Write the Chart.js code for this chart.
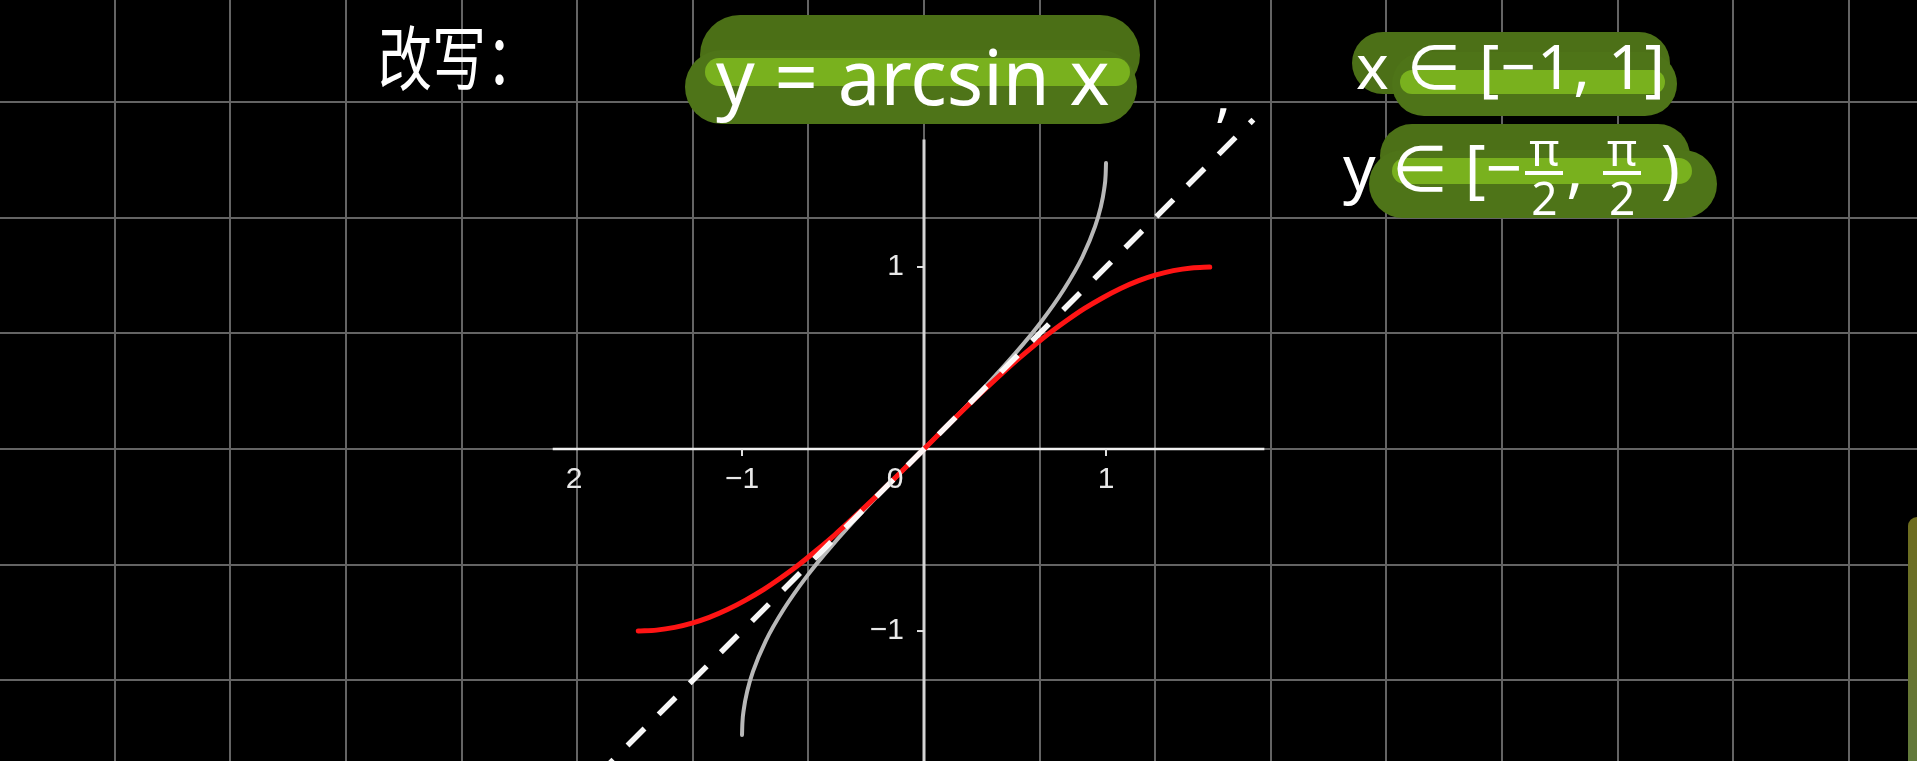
<!DOCTYPE html>
<html><head><meta charset="utf-8">
<script src="https://cdn.jsdelivr.net/npm/chart.js@4/dist/chart.umd.min.js"></script>
<style>
html,body{margin:0;padding:0;background:#000;overflow:hidden}
#wrap{position:relative;width:1917px;height:761px;background:#000}
#c{position:absolute;left:0;top:0}
.hl{position:absolute;border-radius:44px}
.t{position:absolute;color:#fff;white-space:nowrap;line-height:1;font-family:"Noto Sans","DejaVu Sans",sans-serif}
.frac{display:inline-block;vertical-align:middle;text-align:center;font-size:46px;line-height:0.9;margin:0 3px}
.frac span{display:block}
.frac .bar{border-top:4px solid #fff;width:38px;margin:2px auto}
#edge{position:absolute;left:1908px;top:517px;width:9px;height:244px;border-top-left-radius:9px;background:linear-gradient(#6e6c1e,#627a3c)}
</style></head><body>
<div id="wrap">
<canvas id="c" width="1917" height="761"></canvas>

<div class="hl" style="left:700px;top:15px;width:440px;height:80px;background:#4b6f16"></div>
<div class="hl" style="left:685px;top:50px;width:452px;height:74px;background:#4e7418"></div>
<div class="hl" style="left:705px;top:58px;width:425px;height:28px;background:#79b11e"></div>
<div class="t" style="left:716px;top:38px;font-size:76px;">y = arcsin x</div>
<div class="t" style="left:1215px;top:62px;font-size:60px;">,</div>

<div class="hl" style="left:1352px;top:32px;width:318px;height:62px;background:#4c7017"></div>
<div class="hl" style="left:1392px;top:52px;width:285px;height:64px;background:#4e7418"></div>
<div class="hl" style="left:1400px;top:70px;width:265px;height:24px;background:#79b11e"></div>
<div class="t" style="left:1356px;top:34px;font-size:62px;letter-spacing:1px;">x ∈ [−1, 1]</div>

<div class="hl" style="left:1380px;top:124px;width:310px;height:64px;background:#4c7017"></div>
<div class="hl" style="left:1369px;top:150px;width:348px;height:68px;background:#4e7418"></div>
<div class="hl" style="left:1392px;top:158px;width:300px;height:26px;background:#79b11e"></div>
<div class="t" style="left:1343px;top:128px;font-size:64px;">y ∈ [−<span class="frac"><span>π</span><span class="bar"></span><span>2</span></span>, <span class="frac"><span>π</span><span class="bar"></span><span>2</span></span>&nbsp;)</div>

<div class="t" style="left:378px;top:20px;font-size:54px;font-family:'Noto Sans CJK SC';transform:scaleY(1.3);transform-origin:top left;">改写：</div>
<div id="edge"></div>
</div>
<script>
// ---- data ----
const sinX = [-1.57,-1.47,-1.37,-1.27,-1.18,-1.08,-0.98,-0.88,-0.79,-0.69,-0.59,-0.49,-0.39,-0.29,-0.20,-0.10,0.00,0.10,0.20,0.29,0.39,0.49,0.59,0.69,0.79,0.88,0.98,1.08,1.18,1.27,1.37,1.47,1.57];
const sinY = [-1.000,-0.995,-0.980,-0.955,-0.925,-0.882,-0.830,-0.771,-0.710,-0.637,-0.556,-0.471,-0.380,-0.286,-0.199,-0.100,0.000,0.100,0.199,0.286,0.380,0.471,0.556,0.637,0.710,0.771,0.830,0.882,0.925,0.955,0.980,0.995,1.000];
const asinX = [-1.00,-0.998,-0.99,-0.97,-0.94,-0.87,-0.77,-0.64,-0.50,-0.34,-0.17,0.00,0.17,0.34,0.50,0.64,0.77,0.87,0.94,0.97,0.99,0.998,1.00];
const asinY = [-1.571,-1.508,-1.429,-1.325,-1.223,-1.055,-0.879,-0.694,-0.524,-0.347,-0.171,0.000,0.171,0.347,0.524,0.694,0.879,1.055,1.223,1.325,1.429,1.508,1.571];
const diagX = [-1.80,1.81];
const diagY = [-1.80,1.81];
const xAxisRange = [-2.04,1.87];
const yAxisRange = [-1.75,1.70];
const xTickValues = [-2,-1,0,1];
const xTickLabels = ['2','−1','0','1'];
const yTickValues = [1,-1];
const yTickLabels = ['1','−1'];

// ---- view ----
const X_MIN=-5.077, X_MAX=5.456, Y_MIN=-1.714, Y_MAX=2.467;
const GRID_STEP=0.6352;
function gridTicks(min,max){const t=[];for(let k=Math.ceil(min/GRID_STEP);k*GRID_STEP<=max+1e-9;k++)t.push({value:k*GRID_STEP});return t;}
const pts=(xs,ys)=>xs.map((x,i)=>({x:x,y:ys[i]}));

const axisDecor={
  id:'axisDecor',
  afterDatasetsDraw(chart){
    const ctx=chart.ctx, xs=chart.scales.x, ys=chart.scales.y;
    const ox=xs.getPixelForValue(0), oy=ys.getPixelForValue(0);
    ctx.save();
    ctx.strokeStyle='#e0e0e0';ctx.lineWidth=2;
    xTickValues.forEach(v=>{ if(v===0||v===-2) return; const p=xs.getPixelForValue(v);
      ctx.beginPath();ctx.moveTo(p,oy);ctx.lineTo(p,oy+7);ctx.stroke();});
    yTickValues.forEach(v=>{ const p=ys.getPixelForValue(v);
      ctx.beginPath();ctx.moveTo(ox-7,p);ctx.lineTo(ox,p);ctx.stroke();});
    ctx.fillStyle='#e8e8e8';ctx.font='30px "Liberation Sans", Arial, sans-serif';
    ctx.textBaseline='middle';ctx.textAlign='center';
    xTickValues.forEach((v,i)=>{ let p=xs.getPixelForValue(v);
      if(v===0) p-=29; if(v===-2) p+=14;
      ctx.fillText(xTickLabels[i],p,oy+31);});
    ctx.textAlign='right';
    yTickValues.forEach((v,i)=>{ const p=ys.getPixelForValue(v);
      ctx.fillText(yTickLabels[i],ox-20,p);});
    ctx.restore();
  }
};

new Chart(document.getElementById('c'),{
  type:'scatter',
  data:{datasets:[
    {label:'y=x',data:pts(diagX,diagY),showLine:true,borderColor:'rgba(255,255,255,0.97)',borderWidth:5.5,borderDash:[24,20],pointRadius:0,order:0},
    {label:'sin',data:pts(sinX,sinY),showLine:true,borderColor:'#ff1414',borderWidth:5,borderCapStyle:'round',cubicInterpolationMode:'monotone',pointRadius:0,order:1},
    {label:'arcsin',data:pts(asinX,asinY),showLine:true,borderColor:'#b8b8b8',borderWidth:4,borderCapStyle:'round',cubicInterpolationMode:'monotone',pointRadius:0,order:2},
    {label:'xaxis',data:[{x:xAxisRange[0],y:0},{x:xAxisRange[1],y:0}],showLine:true,borderColor:'#f0f0f0',borderWidth:2.5,pointRadius:0,order:3},
    {label:'yaxis',data:[{x:0,y:yAxisRange[0]},{x:0,y:yAxisRange[1]}],showLine:true,borderColor:'#d4d4d4',borderWidth:3,pointRadius:0,order:3}
  ]},
  options:{
    responsive:false,animation:false,devicePixelRatio:1,
    layout:{padding:0},
    plugins:{legend:{display:false},tooltip:{enabled:false}},
    scales:{
      x:{type:'linear',min:X_MIN,max:X_MAX,afterBuildTicks:s=>{s.ticks=gridTicks(s.min,s.max);},
         ticks:{display:false},grid:{color:'#646464',lineWidth:2,drawTicks:false},border:{display:false}},
      y:{type:'linear',min:Y_MIN,max:Y_MAX,afterBuildTicks:s=>{s.ticks=gridTicks(s.min,s.max);},
         ticks:{display:false},grid:{color:'#646464',lineWidth:2,drawTicks:false},border:{display:false}}
    }
  },
  plugins:[axisDecor]
});
</script>
</body></html>
